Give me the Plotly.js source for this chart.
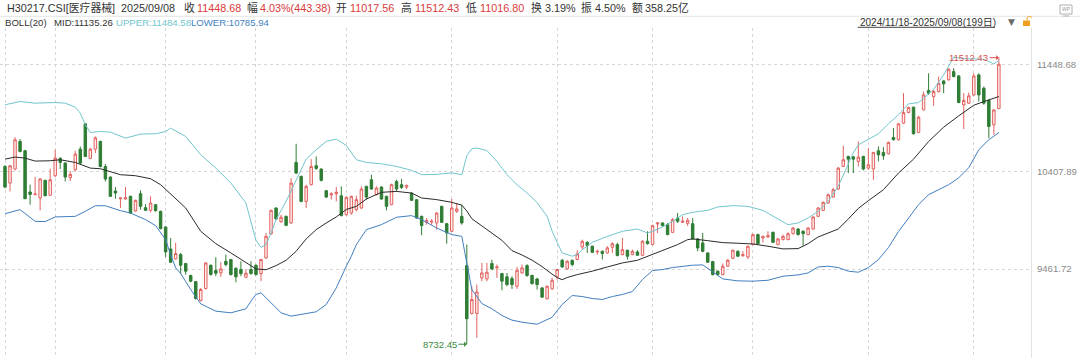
<!DOCTYPE html>
<html>
<head>
<meta charset="utf-8">
<script src="https://cdn.plot.ly/plotly-3.0.1.min.js"></script>
<style>
html,body{margin:0;padding:0;background:#fff;}
#chart{width:1080px;height:362px;}
</style>
</head>
<body>
<div id="chart"></div>
<script>
// ---------- DATA ----------
const openP = [10457,10296,10432,10700,10609,10209,10183,10151,10322,10177,
10367,10535,10490,10348,10425,10625,10871,10535,10625,10700,
10457,10354,10219,10144,10141,10167,10025,10193,10057,10031,
10086,10022,9870,9657,9560,9602,9515,9399,9340,9157,
9273,9499,9447,9424,9537,9554,9470,9457,9382,9457,
9499,9418,9570,9802,10054,9922,9973,9909,10496,10361,
10118,10280,10464,10432,10222,10180,10193,10173,9989,10005,
10038,10054,10264,10328,10183,10257,10167,10086,10312,10280,
10257,10199,10135,9973,9915,9918,9909,10070,9902,9828,
10022,9973,9495,9031,9031,9376,9366,9515,9473,9418,
9386,9370,9295,9424,9495,9399,9366,9279,9173,9269,
9386,9547,9463,9547,9554,9676,9721,9683,9628,9634,
9618,9673,9699,9602,9644,9602,9628,9595,9731,9699,
9899,9909,9892,9818,9957,9915,9905,9902,9754,9715,
9618,9534,9441,9408,9489,9566,9634,9592,9579,9699,
9796,9763,9773,9818,9699,9747,9747,9805,9850,9828,
9796,9850,9973,10031,10102,10160,10238,10457,10554,10550,
10506,10554,10441,10432,10609,10593,10580,10738,10716,10877,
10980,11032,10787,11006,11193,11135,11184,11287,11297,11377,
11335,11055,11071,11151,11345,11216,11097,10861,11017.56];

const highP = [10470,10470,10741,10722,10619,10280,10354,10344,10328,10435,
10619,10548,10496,10412,10609,10651,10877,10638,10748,10706,
10480,10361,10257,10157,10257,10173,10135,10225,10093,10167,
10093,10028,9876,9763,9715,9618,9521,9408,9344,9279,
9528,9505,9576,9528,9602,9560,9476,9537,9457,9537,
9505,9560,9812,10038,10060,9989,9980,10344,10677,10367,
10280,10528,10554,10438,10228,10206,10257,10264,10167,10173,
10173,10264,10270,10377,10264,10264,10173,10290,10328,10335,
10283,10206,10141,9980,9957,9947,10015,10076,9909,10141,
10102,10086,9699,9295,9311,9521,9521,9553,9505,9424,
9424,9392,9482,9505,9508,9408,9376,9286,9302,9376,
9463,9560,9547,9554,9644,9747,9731,9689,9650,9641,
9683,9721,9715,9763,9650,9650,9644,9741,9828,9892,
9915,9915,9909,9957,10005,9973,9957,9957,9763,9812,
9624,9541,9450,9515,9560,9650,9641,9634,9689,9805,
9805,9786,9828,9825,9763,9796,9818,9870,9860,9838,
9870,9973,10064,10118,10193,10248,10451,10657,10561,10556,
10700,10561,10635,10599,10651,10645,10699,10829,10877,11168,
11038,11038,10948,11184,11361,11200,11329,11293,11410,11410,
11345,11168,11174,11361,11361,11232,11109,11013,11512.43];

const lowP = [10245,10215,10419,10593,10141,10086,10180,10031,10167,10173,
10354,10432,10312,10315,10409,10474,10548,10528,10587,10448,
10312,10160,10144,10054,10135,9999,10018,10038,10025,10012,
10018,9847,9579,9521,9554,9418,9408,9334,9166,9147,
9263,9399,9392,9386,9489,9399,9334,9392,9376,9408,
9399,9344,9560,9796,9941,9909,9876,9902,10383,10109,
10054,10273,10425,10312,10151,10135,10118,9973,9980,9989,
10022,10044,10135,10231,10177,10135,10031,10080,10215,10238,
10238,10122,9951,9789,9892,9892,9844,9909,9708,9821,
10005,9892,8732.45,9021,8795,9344,9344,9450,9376,9256,
9295,9269,9269,9418,9386,9311,9263,9182,9166,9263,
9360,9473,9457,9489,9547,9650,9618,9618,9602,9554,
9612,9618,9586,9595,9554,9595,9592,9586,9699,9692,
9812,9876,9789,9812,9909,9909,9880,9747,9634,9624,
9521,9399,9399,9399,9482,9560,9579,9579,9560,9692,
9699,9721,9763,9715,9692,9741,9741,9796,9786,9689,
9789,9844,9967,10025,10096,10154,10231,10451,10393,10393,
10457,10419,10425,10328,10506,10522,10573,10709,10709,10871,
10974,10767,10780,11000,11151,11045,11174,11168,11290,11322,
11071,10819,11064,11142,11087,11055,10732,10764,11016.80];

const closeP = [10257,10464,10716,10603,10144,10186,10189,10335,10173,10328,
10538,10496,10354,10380,10577,10490,10554,10625,10735,10457,
10335,10167,10199,10151,10154,10005,10128,10070,10031,10102,
10028,9854,9628,9528,9612,9499,9441,9344,9176,9263,
9521,9408,9421,9463,9505,9408,9386,9418,9421,9418,
9408,9554,9779,10031,9947,9964,9886,10296,10393,10118,
10264,10457,10438,10322,10160,10193,10206,9980,10157,10167,
10135,10238,10160,10238,10248,10141,10070,10280,10238,10254,
10270,10128,9957,9883,9931,9925,10005,9915,9812,10054,
10044,9909,8979,9166,9240,9424,9431,9463,9482,9344,
9311,9311,9450,9473,9399,9321,9311,9189,9295,9353,
9457,9482,9537,9505,9608,9731,9689,9624,9634,9612,
9667,9708,9592,9650,9586,9634,9595,9731,9708,9883,
9909,9883,9796,9941,9925,9925,9935,9754,9666,9634,
9528,9408,9408,9489,9547,9644,9586,9602,9683,9796,
9708,9779,9786,9721,9754,9779,9805,9860,9796,9805,
9860,9967,10054,10109,10183,10231,10441,10522,10528,10528,
10548,10432,10473,10593,10570,10561,10690,10716,10871,10980,
11029,10774,10935,11151,11168,11184,11264,11258,11400,11329,
11077,11097,11142,11335,11151,11071,10845,11005.30,11448.68];

// Bollinger band lines (trading-day index -> value)
const upperIdx = [0,3,6,10,12,14,15,16,17,19,21,24,27,30,32,33,36,39,42,45,48,50,51,52,53,54,56,58,60,62,64,66,68,70,72,75,78,81,83,86,89,91,92,93,94,96,98,100,102,104,106,108,109,110,111,113,114,115,117,120,123,126,128,129,131,133,135,137,140,142,145,148,151,154,156,158,160,162,164,166,168,169,170,172,174,176,178,180,182,183,185,187,189,191,193,195,197,198];
const upperVal = [11055,11087,11071,11077,11071,11032,10974,10861,10787,10796,10790,10732,10771,10774,10796,10829,10748,10570,10441,10296,10102,9740,9673,9699,9812,9941,10118,10328,10528,10619,10700,10722,10660,10522,10496,10483,10457,10419,10377,10380,10395,10377,10560,10630,10635,10612,10505,10377,10280,10200,10106,9973,9830,9721,9618,9586,9602,9650,9721,9779,9828,9850,9812,9828,9870,9925,9989,10012,10031,10064,10077,10070,10031,9947,9892,9909,9957,10022,10118,10264,10473,10590,10667,10722,10774,10871,10958,11064,11077,11119,11206,11345,11516,11503,11497,11497,11452,11484.58];

const midIdx = [0,2,4,6,9,11,14,16,17,19,21,23,26,29,31,33,35,36,39,42,45,48,50,52,54,56,58,60,62,64,66,68,70,72,75,78,81,83,86,89,91,92,93,95,97,99,101,103,105,107,109,110,111,112,114,117,120,123,126,128,130,132,134,136,137,140,143,146,149,152,155,158,160,162,164,166,168,170,172,175,178,181,184,187,190,193,196,198];
const midVal = [10528,10548,10538,10509,10512,10522,10496,10457,10441,10435,10409,10377,10367,10338,10280,10191,10102,10054,9828,9708,9618,9521,9463,9455,9495,9547,9634,9754,9844,9909,9967,10040,10070,10141,10206,10215,10199,10151,10135,10109,10082,10025,9950,9880,9810,9740,9640,9598,9548,9485,9412,9380,9358,9380,9408,9441,9482,9521,9547,9586,9624,9657,9699,9747,9754,9737,9718,9712,9705,9683,9657,9660,9708,9773,9812,9850,9947,10050,10125,10231,10393,10528,10699,10838,10948,11051,11103,11135.26];

const lowerIdx = [0,3,6,8,10,14,16,18,20,23,25,28,30,32,33,34,35,37,39,42,45,48,49,50,51,52,53,55,57,59,62,64,66,68,69,70,72,75,78,81,83,86,89,91,92,93,95,97,99,101,103,106,109,111,113,115,117,119,121,123,125,127,129,131,133,135,137,139,141,143,146,149,152,155,158,160,162,164,166,168,170,172,174,176,178,180,182,184,186,188,190,192,194,196,198];
const lowerVal = [9999,10038,9925,9922,9967,9973,10022,10076,10076,10028,10005,9941,9883,9747,9600,9473,9418,9263,9124,9053,9037,9076,9150,9215,9231,9183,9130,9037,9005,9021,9047,9118,9279,9490,9586,9699,9844,9893,9964,9980,9941,9860,9796,9779,9500,9263,9127,9076,9011,8966,8946,8926,8994,9118,9205,9195,9176,9166,9195,9215,9244,9360,9447,9457,9476,9489,9499,9502,9431,9366,9347,9344,9353,9392,9405,9424,9482,9489,9476,9441,9431,9476,9553,9670,9825,9960,10086,10183,10232,10280,10347,10445,10619,10716,10785.94];

// month-start trading-day indices (vertical grid lines)
const monthStartIdx = [0,10,32,50,68,89,110,129,149,172,193];
// price-axis tick values and labels
const yTickVals = [11448.68,10407.89,9461.72,8601.56];
const yTickText = ['11448.68','10407.89','9461.72','8601.56'];

// header texts
const headerLabels = ['H30217.CSI[医疗器械]','2025/09/08','收','11448.68','幅','4.03%(443.38)','开','11017.56','高','11512.43','低','11016.80','换','3.19%','振','4.50%','额','358.25亿'];
const bollTexts = ['BOLL(20)','MID:11135.26','UPPER:11484.58','LOWER:10785.94'];
const rangeText = '2024/11/18-2025/09/08(199日)';

// ---------- LAYOUT HELPERS ----------
const W = 1080, H = 362, ML = 0, MR = 49, MT = 28, MB = 4;
const PW = W - ML - MR, PH = H - MT - MB;
const px = x => (x - ML) / PW;
const py = y => (H - MB - y) / PH;

const RED = '#d93a3a', DARK = '#333333', GREEN = '#3a8a3e';
const UPC = '#72c6cc', LOWC = '#3f7fbf';
const FONT = 'Liberation Sans, Arial, Noto Sans CJK SC, sans-serif';

const idx = closeP.map((_, i) => i);

const traces = [
  {type:'scatter', mode:'lines', x: upperIdx, y: upperVal, line:{color:UPC, width:1}, hoverinfo:'skip'},
  {type:'scatter', mode:'lines', x: lowerIdx, y: lowerVal, line:{color:LOWC, width:1}, hoverinfo:'skip'},
  {type:'scatter', mode:'lines', x: midIdx, y: midVal, line:{color:'#2b2b2b', width:1}, hoverinfo:'skip'},
  {type:'candlestick', x: idx, open: openP, high: highP, low: lowP, close: closeP,
   increasing:{line:{color:'#e2625f', width:1}, fillcolor:'#fdeeee'},
   decreasing:{line:{color:'#2f7d34', width:1}, fillcolor:'#2f7d34'},
   hoverinfo:'skip'}
];

// header annotations
const headerX = [5,119,181.5,194.8,244.5,257.6,334.3,348.1,399.1,412.9,463.9,477.7,528.7,542.5,579.1,592.9,629.5,643.3];
const redSet = [3,5,7,9,11];
const annotations = headerLabels.map((t, i) => ({
  xref:'paper', yref:'paper', x: px(headerX[i]), y: py(7.5), xanchor:'left', yanchor:'middle',
  text: t, showarrow:false, font:{family:FONT, size:10.8, color: redSet.includes(i) ? RED : DARK}
}));
const bollX = [3.4, 51.7, 113.7, 189.4];
const bollC = [DARK, DARK, UPC, LOWC];
bollTexts.forEach((t, i) => annotations.push({
  xref:'paper', yref:'paper', x: px(bollX[i]), y: py(22.5), xanchor:'left', yanchor:'middle',
  text: t, showarrow:false, font:{family:FONT, size:9.6, color: bollC[i]}
}));
annotations.push({xref:'paper', yref:'paper', x: px(857.6), y: py(22), xanchor:'left', yanchor:'middle',
  text: rangeText, showarrow:false, font:{family:FONT, size:10, color:DARK}});
annotations.push({xref:'paper', yref:'paper', x: px(1011), y: py(22), xanchor:'center', yanchor:'middle',
  text: '▼', showarrow:false, font:{family:'DejaVu Sans', size:9, color:'#6b6b6b'}});
annotations.push({xref:'paper', yref:'paper', x: px(1066), y: py(9.5), xanchor:'center', yanchor:'middle',
  text: 'WP', showarrow:false, font:{family:FONT, size:5, color:'#9a9a9a'}});

// max high / min low markers
let hiI = 0, loI = 0;
highP.forEach((v, i) => { if (v > highP[hiI]) hiI = i; });
lowP.forEach((v, i) => { if (v < lowP[loI]) loI = i; });
annotations.push({x: hiI, y: highP[hiI], xref:'x', yref:'y', text: highP[hiI].toFixed(2),
  showarrow:true, ax:-30, ay:0, arrowhead:1, arrowsize:0.9, arrowwidth:1, arrowcolor:'#d9534f', standoff:0,
  font:{family:FONT, size:9.5, color:'#d9534f'}});
annotations.push({x: loI, y: lowP[loI], xref:'x', yref:'y', text: lowP[loI].toFixed(2),
  showarrow:true, ax:-27, ay:0, arrowhead:1, arrowsize:0.9, arrowwidth:1, arrowcolor:GREEN, standoff:0,
  font:{family:FONT, size:9.5, color:GREEN}});

const shapes = [
  {type:'line', xref:'paper', yref:'paper', x0: px(0), x1: px(W), y0: py(16.3), y1: py(16.3), line:{color:'#e4e4e4', width:1}},
  {type:'line', xref:'paper', yref:'paper', x0: px(857.6), x1: px(995), y0: py(27.3), y1: py(27.3), line:{color:'#444', width:1}},
  {type:'rect', xref:'paper', yref:'paper', x0: px(1023), x1: px(1030), y0: py(26), y1: py(20.5), fillcolor:'#f0a020', line:{width:0}},
  {type:'path', xref:'paper', yref:'paper', path:`M ${px(1027)} ${py(20.5)} L ${px(1027)} ${py(17.5)} Q ${px(1029.5)} ${py(15)} ${px(1032)} ${py(17.5)}`, line:{color:'#f0a020', width:1}},
  {type:'rect', xref:'paper', yref:'paper', x0: px(1060), x1: px(1072), y0: py(14), y1: py(5), fillcolor:'rgba(0,0,0,0)', line:{color:'#b0b0b0', width:1}},
  {type:'line', xref:'paper', yref:'paper', x0: px(1063), x1: px(1069), y0: py(16), y1: py(16), line:{color:'#b0b0b0', width:1}}
];

const layout = {
  width: W, height: H,
  margin: {l: ML, r: MR, t: MT, b: MB, pad: 0},
  paper_bgcolor:'#ffffff', plot_bgcolor:'#ffffff',
  showlegend:false, hovermode:false,
  xaxis: {type:'linear', range:[-0.996, 204.4], tickvals: monthStartIdx, showticklabels:false,
    ticks:'', showgrid:true, gridcolor:'#d6d6d6', griddash:'dot', gridwidth:1,
    zeroline:false, showline:false, rangeslider:{visible:false}, fixedrange:true},
  yaxis: {side:'right', range:[8598.7, 11800.2], tickvals: yTickVals, ticktext: yTickText,
    ticks:'', showgrid:true, gridcolor:'#d6d6d6', griddash:'dot', gridwidth:1,
    zeroline:false, showline:true, linecolor:'#e2e2e2', linewidth:1, ticklabelstandoff:3,
    tickfont:{family:FONT, size:9.6, color:'#8a8a8a'}, fixedrange:true},
  annotations: annotations,
  shapes: shapes,
  font:{family:FONT}
};

Plotly.newPlot('chart', traces, layout, {staticPlot:true, displayModeBar:false});
</script>
</body>
</html>
